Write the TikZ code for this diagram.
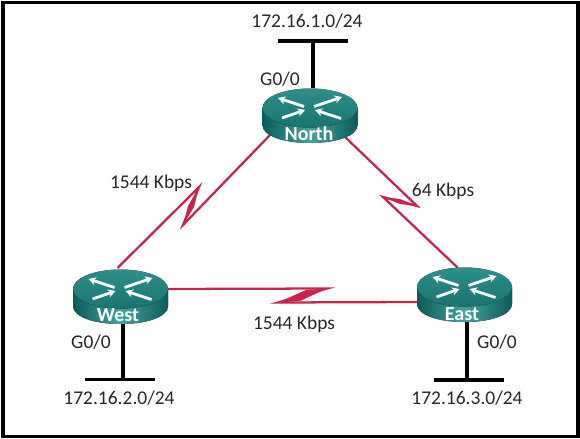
\documentclass[tikz,border=0pt]{standalone}
\usepackage{fontspec}
\setmainfont{Carlito}
\usetikzlibrary{calc,arrows.meta}
\definecolor{linkred}{HTML}{C9244C}
\definecolor{inkdark}{HTML}{26262B}
\definecolor{tealedge}{HTML}{0B5C5B}
\definecolor{tealmid}{HTML}{45A39E}
\definecolor{tealtop}{HTML}{2F8F8A}
\definecolor{tealtopdark}{HTML}{187470}
\tikzset{
  routerbox/.style={minimum width=71.25pt,minimum height=41.25pt,inner sep=0pt,outer sep=0pt},
  busbar/.style={fill=black,minimum width=52.5pt,minimum height=2.8pt,inner sep=0pt,outer sep=0pt},
  stem/.style={line width=2.9pt,black},
  serial/.style={line width=1.7pt,linkred,line join=miter},
  zigfill/.style={fill=linkred},
  lbl/.style={font=\fontsize{14.6pt}{16pt}\selectfont,text=inkdark,inner sep=0pt},
  routername/.style={font=\fontsize{15pt}{16pt}\selectfont\bfseries,text=white,inner sep=0pt},
  crossarrow/.style={white,line width=2.1pt,-{Stealth[length=5.5pt,width=6pt]}}
}
\newcommand{\routerart}[3]{%
  \begin{scope}[shift={(#1,#2)}]
    \fill[left color=tealedge,right color=tealedge,middle color=tealmid]
      (-47.5,0) -- (-47.5,17) .. controls (-47.5,28) and (-26,35) .. (0,35)
      .. controls (26,35) and (47.5,28) .. (47.5,17) -- (47.5,0) -- cycle;
    \fill[top color=tealtop,bottom color=tealtopdark] (0,0) ellipse [x radius=47.5,y radius=19.5];
    \draw[crossarrow] (-6,-1.5) -- (-32,-10);
    \draw[crossarrow] (4,-1.5) -- (32,-11);
    \draw[crossarrow] (-28,10) -- (-5,2);
    \draw[crossarrow] (31,10.5) -- (5,2);
    #3
  \end{scope}}
\begin{document}
\begin{tikzpicture}[x=0.75pt,y=-0.75pt]
\useasboundingbox (0,0) rectangle (580,438);
\draw[line width=2.9pt,black] (3,2.5) rectangle (578,436.5);
% routers (placement)
\node[routerbox] (north) at (310,115.5) {};
\node[routerbox] (west) at (120.5,296) {};
\node[routerbox] (east) at (464.5,294.5) {};
% bus bars
\node[busbar] (busn) at (312.5,41) {};
\node[busbar] (busw) at (120,379.5) {};
\node[busbar] (buse) at (468.5,380) {};
% zigzag points
\coordinate (wtip) at (199,187);
\coordinate (wlow) at (183,225);
\coordinate (etip) at (417,206);
\coordinate (elow) at (383,197);
\coordinate (stip) at (327,288.5);
\coordinate (slow) at (278,302.5);
% stems
\draw[stem] ($(busn)+(0.5,0)$) -- ($(north)+(3,-27)$);
\draw[stem] ($(busw)+(3,0)$) -- ($(west)+(2.5,27)$);
\draw[stem] ($(buse)+(-1.5,0)$) -- ($(east)+(2.5,27)$);
% serial links
\draw[serial] ($(west)+(-3,-28)$) -- (wtip) -- (wlow) -- ($(north)+(-40,19.5)$);
\fill[zigfill] (wtip) -- (wlow) -- (188,206) -- cycle;
\fill[zigfill] (wtip) -- (wlow) -- (194,207) -- cycle;
\draw[serial] ($(north)+(35,21.5)$) -- (etip) -- (elow) -- ($(east)+(-7,-27)$);
\fill[zigfill] (etip) -- (elow) -- (400,199) -- cycle;
\fill[zigfill] (etip) -- (elow) -- (400,204) -- cycle;
\draw[serial] ($(west)+(47,-7)$) -- (stip) -- (slow) -- ($(east)+(-47,7.5)$);
\fill[zigfill] (stip) -- (slow) -- (306,290) -- cycle;
\fill[zigfill] (stip) -- (slow) -- (300,301) -- cycle;
% router art
\routerart{310}{108}{\node[routername] (northname) at (-1,26) {North};}
\routerart{120.5}{289}{\node[routername] (westname) at (-2.5,26) {West};}
\routerart{464.5}{287}{\node[routername] (eastname) at (-2.5,27) {East};}
% labels
\node[lbl] (netn) at (307,21) {172.16.1.0/24};
\node[lbl] (netw) at (119,398) {172.16.2.0/24};
\node[lbl] (nete) at (467,398) {172.16.3.0/24};
\node[lbl] (gn) at (280,79) {G0/0};
\node[lbl] (gw) at (91,342) {G0/0};
\node[lbl] (ge) at (497,342) {G0/0};
\node[lbl] (lw) at (151,183) {1544 Kbps};
\node[lbl] (ls) at (294,324) {1544 Kbps};
\node[lbl] (le) at (443,191) {64 Kbps};
\end{tikzpicture}
\end{document}
